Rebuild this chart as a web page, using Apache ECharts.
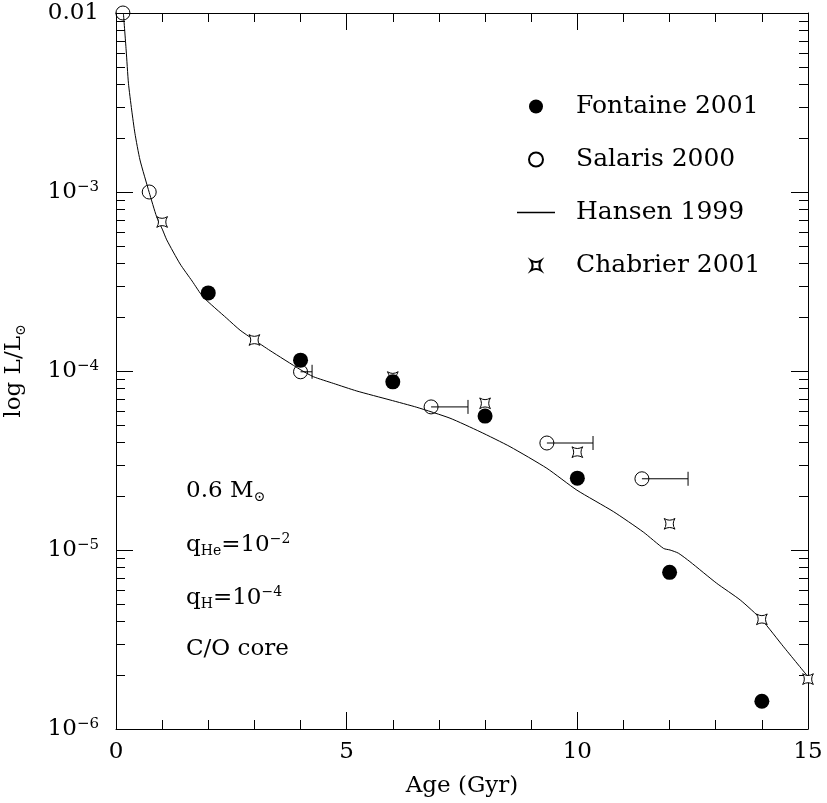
<!DOCTYPE html>
<html><head><meta charset="utf-8">
<script src="https://cdn.jsdelivr.net/npm/echarts@6.0.0/dist/echarts.min.js"></script>
<style>html,body{margin:0;padding:0;background:#fff}#c{width:827px;height:803px}</style>
</head><body><div id="c"></div>
<script>
const FONT = 'DejaVu Serif';

// ---- data ----
const fontaineAge = [2, 4, 6, 8, 10, 12, 14];
const fontaineL   = [2.73e-4, 1.15e-4, 8.7e-5, 5.6e-5, 2.52e-5, 7.5e-6, 1.43e-6];

const salarisAge    = [0.15, 0.72, 4.0, 6.83, 9.34, 11.40];
const salarisL      = [1.0e-2, 1.0e-3, 9.9e-5, 6.3e-5, 3.96e-5, 2.5e-5];
const salarisAgeMax = [null, null, 4.25, 7.63, 10.34, 12.40];

const chabrierAge = [1, 3, 6, 8, 10, 12, 14, 15];
const chabrierL   = [6.8e-4, 1.49e-4, 9.25e-5, 6.6e-5, 3.52e-5, 1.40e-5, 4.1e-6, 1.9e-6];

const hansenAge = [0.16, 0.22, 0.27, 0.34, 0.41, 0.52, 0.72, 0.88, 1.01, 1.10, 1.39, 1.65, 1.89, 2.40, 2.69, 2.98, 3.34, 3.99, 4.28, 4.71, 5.22, 5.94, 6.52, 7.24, 7.89, 8.54, 9.34, 9.99, 10.78, 11.43, 11.87, 12.01, 12.19, 12.44, 13.02, 13.53, 14.0, 14.47, 15.0];
const hansenL   = [1.0e-2, 6.21e-3, 4.05e-3, 2.87e-3, 2.13e-3, 1.51e-3, 9.95e-4, 7.28e-4, 6.14e-4, 5.40e-4, 3.96e-4, 3.18e-4, 2.59e-4, 1.97e-4, 1.69e-4, 1.50e-4, 1.30e-4, 1.02e-4, 9.29e-5, 8.53e-5, 7.73e-5, 6.89e-5, 6.27e-5, 5.45e-5, 4.58e-5, 3.78e-5, 2.86e-5, 2.16e-5, 1.64e-5, 1.26e-5, 1.02e-5, 1.0e-5, 9.6e-6, 8.61e-6, 6.52e-6, 5.26e-6, 4.07e-6, 2.88e-6, 1.96e-6];

// ---- axes / ticks ----
const xMin = 0, xMax = 15, xInterval = 5;
const yMin = 1e-6, yMax = 1e-2;
const yDecadeExp = [-6, -5, -4, -3, -2];
const yTickLabels = ['{b|10}{s|\u22126}', '{b|10}{s|\u22125}', '{b|10}{s|\u22124}', '{b|10}{s|\u22123}', '{b|0.01}'];
const yMinorMult = [2, 3, 4, 5, 6, 7, 8, 9];
const legendNames = ['Fontaine 2001', 'Salaris 2000', 'Hansen 1999', 'Chabrier 2001'];

const yMinorVals = [];
yDecadeExp.slice(0, -1).forEach(e => yMinorMult.forEach(m => yMinorVals.push([xMin, m * Math.pow(10, e)])));

// four-pointed star, with an empty margin in its box
const starPath = 'path://M-2,-2 M12,12 M0,0 Q5,3.2 10,0 Q6.8,5 10,10 Q5,6.8 0,10 Q3.2,5 0,0 Z';
const LINE = '#000';

const chart = echarts.init(document.getElementById('c'), null, {renderer: 'canvas'});

const tickCommon = {inside: true, length: 17, lineStyle: {color: LINE, width: 1}};
const axisLineCommon = {show: true, onZero: false, lineStyle: {color: LINE, width: 1}};

const annRich = {
  n: {fontFamily: FONT, fontSize: 23, fill: '#000', lineHeight: 26},
  d: {fontFamily: FONT, fontSize: 14, fill: '#000', verticalAlign: 'bottom', lineHeight: 14},
  u: {fontFamily: FONT, fontSize: 14, fill: '#000', verticalAlign: 'top', lineHeight: 14}
};

const option = {
  animation: false,
  backgroundColor: '#fff',
  grid: {left: 116, right: 19, top: 13, bottom: 74, containLabel: false, outerBoundsMode: 'none'},
  legend: {
    data: [
      {name: legendNames[0]},
      {name: legendNames[1]},
      {name: legendNames[2], icon: 'path://M0,0 H38 V1.3 H0 Z'},
      {name: legendNames[3]}
    ],
    orient: 'vertical', left: 512, top: 89,
    itemWidth: 38, itemHeight: 14, itemGap: 28,
    selectedMode: false,
    textStyle: {fontFamily: FONT, fontSize: 25, color: '#000', padding: [0, 0, 0, 16]}
  },
  xAxis: [{
    type: 'value', min: xMin, max: xMax, interval: xInterval, position: 'bottom',
    axisLine: axisLineCommon, axisTick: tickCommon,
    minorTick: {show: true, splitNumber: 5, length: 9, lineStyle: {color: LINE, width: 1}},
    splitLine: {show: false},
    axisLabel: {fontFamily: FONT, fontSize: 23, color: '#000', margin: 12},
    name: 'Age (Gyr)', nameLocation: 'middle', nameGap: 46,
    nameTextStyle: {fontFamily: FONT, fontSize: 23, color: '#000'}
  }, {
    type: 'value', min: xMin, max: xMax, interval: xInterval, position: 'top',
    axisLine: axisLineCommon, axisTick: tickCommon,
    minorTick: {show: true, splitNumber: 5, length: 9, lineStyle: {color: LINE, width: 1}},
    splitLine: {show: false}, axisLabel: {show: false}
  }],
  yAxis: [{
    type: 'log', logBase: 10, min: yMin, max: yMax, position: 'left',
    axisLine: axisLineCommon, axisTick: tickCommon,
    splitLine: {show: false},
    axisLabel: {
      margin: 17,
      formatter: v => yTickLabels[yDecadeExp.indexOf(Math.round(Math.log10(v)))] || '',
      rich: {
        b: {fontFamily: FONT, fontSize: 23, color: '#000', lineHeight: 24},
        s: {fontFamily: FONT, fontSize: 15, color: '#000', verticalAlign: 'top', lineHeight: 15}
      }
    },
    name: '{a|log L/L}{s|\u2299}', nameLocation: 'middle', nameGap: 88, nameRotate: 90,
    nameTextStyle: {
      rich: {
        a: {fontFamily: FONT, fontSize: 23, color: '#000', lineHeight: 28},
        s: {fontFamily: FONT, fontSize: 14, color: '#000', verticalAlign: 'bottom', lineHeight: 14}
      }
    }
  }, {
    type: 'log', logBase: 10, min: yMin, max: yMax, position: 'right',
    axisLine: axisLineCommon, axisTick: tickCommon,
    splitLine: {show: false}, axisLabel: {show: false}
  }],
  graphic: [
    {type: 'text', x: 186, y: 491, style: {text: '{n|0.6 M}{d|\u2299}', verticalAlign: 'middle', rich: annRich}},
    {type: 'text', x: 186, y: 545, style: {text: '{n|q}{d|He}{n|=10}{u|\u22122}', verticalAlign: 'middle', rich: annRich}},
    {type: 'text', x: 186, y: 598, style: {text: '{n|q}{d|H}{n|=10}{u|\u22124}', verticalAlign: 'middle', rich: annRich}},
    {type: 'text', x: 186, y: 649, style: {text: '{n|C/O core}', verticalAlign: 'middle', rich: annRich}}
  ],
  series: [
    {
      name: 'yMinor', type: 'custom', silent: true, z: 1,
      encode: {x: 0, y: 1},
      data: yMinorVals,
      renderItem: (params, api) => {
        const cs = params.coordSys;
        const y = Math.round(api.coord([xMin, api.value(1)])[1]) + 0.5;
        const st = {stroke: LINE, lineWidth: 1};
        return {type: 'group', children: [
          {type: 'line', shape: {x1: cs.x, y1: y, x2: cs.x + 9, y2: y}, style: st},
          {type: 'line', shape: {x1: cs.x + cs.width, y1: y, x2: cs.x + cs.width - 9, y2: y}, style: st}
        ]};
      }
    },
    {
      name: 'Hansen 1999', type: 'line', symbol: 'none', showSymbol: false, z: 2,
      smooth: 0.2,
      lineStyle: {color: '#000', width: 1}, itemStyle: {color: '#000'},
      data: hansenAge.map((a, i) => [a, hansenL[i]])
    },
    {
      name: 'Chabrier 2001', type: 'scatter', symbol: starPath, symbolSize: 15, z: 3,
      itemStyle: {color: '#fff', borderColor: '#000', borderWidth: 1, opacity: 1},
      data: chabrierAge.map((a, i) => [a, chabrierL[i]])
    },
    {
      name: 'Salaris bars', type: 'custom', z: 3, silent: true,
      encode: {x: [0, 2], y: 1},
      data: salarisAge.map((a, i) => [a, salarisL[i], salarisAgeMax[i]]).filter(d => d[2] !== null),
      renderItem: (params, api) => {
        const s = api.coord([api.value(0), api.value(1)]);
        const e = api.coord([api.value(2), api.value(1)]);
        const st = {stroke: '#000', lineWidth: 1};
        return {type: 'group', children: [
          {type: 'line', shape: {x1: s[0], y1: s[1], x2: e[0], y2: e[1]}, style: st},
          {type: 'line', shape: {x1: e[0], y1: e[1] - 7, x2: e[0], y2: e[1] + 7}, style: st}
        ]};
      }
    },
    {
      name: 'Salaris 2000', type: 'scatter', symbol: 'circle', symbolSize: 14, z: 4,
      itemStyle: {color: 'rgba(255,255,255,0)', borderColor: '#000', borderWidth: 1, opacity: 1},
      data: salarisAge.map((a, i) => [a, salarisL[i]])
    },
    {
      name: 'Fontaine 2001', type: 'scatter', symbol: 'circle', symbolSize: 15, z: 5,
      itemStyle: {color: '#000', opacity: 1},
      data: fontaineAge.map((a, i) => [a, fontaineL[i]])
    }
  ]
};
chart.setOption(option);
</script>
</body></html>
